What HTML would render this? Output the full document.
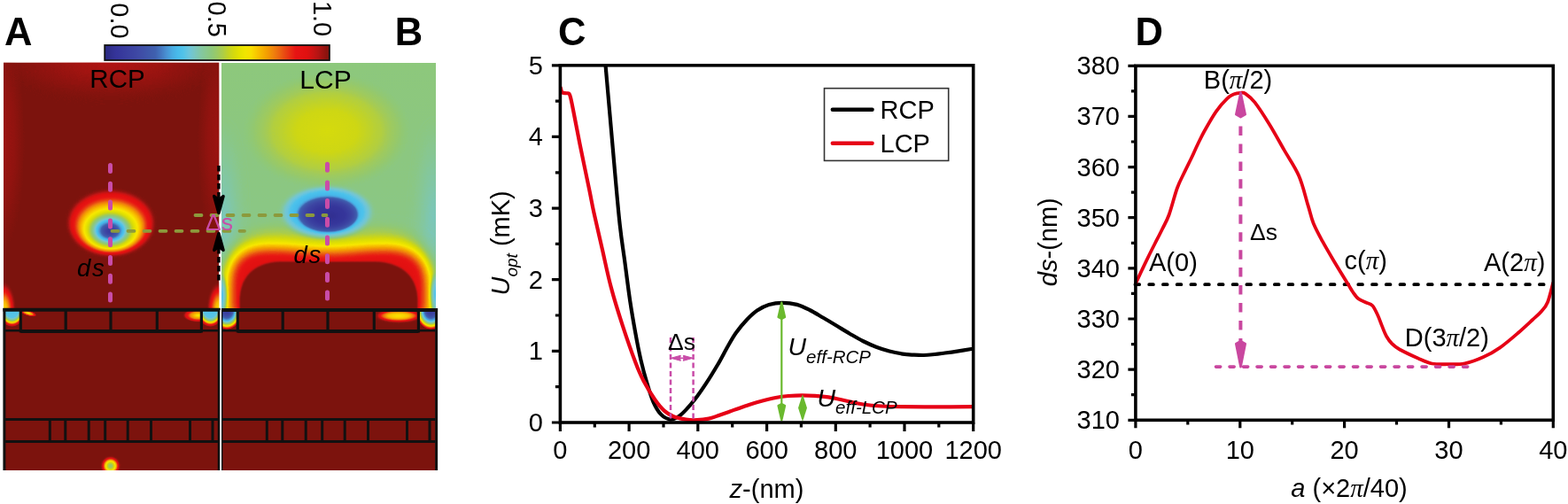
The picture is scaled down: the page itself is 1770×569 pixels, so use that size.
<!DOCTYPE html>
<html><head><meta charset="utf-8"><style>html,body{margin:0;padding:0;background:#fff;overflow:hidden}svg{display:block}</style></head><body>
<svg width="1770" height="569" viewBox="0 0 1770 569" font-family="Liberation Sans, Arial, Helvetica, sans-serif">
<rect width="1770" height="569" fill="#fff"/>
<defs>
<filter id="cm" x="0" y="0" width="1" height="1" color-interpolation-filters="sRGB">
<feComponentTransfer><feFuncR type="table" tableValues="0.169 0.181 0.193 0.205 0.213 0.219 0.225 0.231 0.237 0.243 0.247 0.247 0.247 0.247 0.247 0.252 0.269 0.285 0.288 0.285 0.282 0.282 0.298 0.362 0.426 0.462 0.484 0.506 0.524 0.536 0.548 0.568 0.608 0.648 0.699 0.754 0.806 0.843 0.879 0.912 0.943 0.973 0.973 0.973 0.970 0.963 0.957 0.950 0.942 0.934 0.925 0.916 0.913 0.912 0.910 0.904 0.894 0.884 0.859 0.810 0.761 0.695 0.627 0.559 0.490"/><feFuncG type="table" tableValues="0.165 0.177 0.189 0.201 0.215 0.228 0.242 0.255 0.269 0.282 0.298 0.316 0.334 0.353 0.371 0.403 0.471 0.538 0.600 0.660 0.714 0.741 0.762 0.768 0.775 0.778 0.781 0.783 0.784 0.784 0.784 0.786 0.792 0.798 0.811 0.826 0.842 0.861 0.879 0.892 0.901 0.908 0.852 0.797 0.742 0.687 0.632 0.574 0.516 0.452 0.378 0.305 0.237 0.171 0.105 0.075 0.071 0.066 0.066 0.073 0.081 0.081 0.079 0.077 0.075"/><feFuncB type="table" tableValues="0.502 0.534 0.566 0.598 0.609 0.616 0.623 0.630 0.636 0.643 0.650 0.659 0.667 0.676 0.684 0.704 0.753 0.802 0.842 0.879 0.912 0.924 0.926 0.895 0.865 0.807 0.735 0.664 0.604 0.555 0.506 0.453 0.392 0.331 0.250 0.161 0.081 0.047 0.013 0.000 0.000 0.000 0.000 0.000 0.000 0.000 0.000 0.023 0.047 0.064 0.067 0.070 0.073 0.075 0.077 0.075 0.071 0.066 0.066 0.073 0.081 0.075 0.067 0.059 0.051"/></feComponentTransfer></filter>
<filter id="b1" x="-50%" y="-50%" width="200%" height="200%" color-interpolation-filters="sRGB"><feGaussianBlur stdDeviation="1"/></filter>
<filter id="b2" x="-50%" y="-50%" width="200%" height="200%" color-interpolation-filters="sRGB"><feGaussianBlur stdDeviation="2"/></filter>
<filter id="b3" x="-50%" y="-50%" width="200%" height="200%" color-interpolation-filters="sRGB"><feGaussianBlur stdDeviation="3"/></filter>
<filter id="b4" x="-50%" y="-50%" width="200%" height="200%" color-interpolation-filters="sRGB"><feGaussianBlur stdDeviation="4"/></filter>
<filter id="b6" x="-50%" y="-50%" width="200%" height="200%" color-interpolation-filters="sRGB"><feGaussianBlur stdDeviation="6"/></filter>
<filter id="b7" x="-50%" y="-50%" width="200%" height="200%" color-interpolation-filters="sRGB"><feGaussianBlur stdDeviation="7"/></filter>
<filter id="b8" x="-50%" y="-50%" width="200%" height="200%" color-interpolation-filters="sRGB"><feGaussianBlur stdDeviation="8"/></filter>
<filter id="b10" x="-50%" y="-50%" width="200%" height="200%" color-interpolation-filters="sRGB"><feGaussianBlur stdDeviation="10"/></filter>
<filter id="b14" x="-50%" y="-50%" width="200%" height="200%" color-interpolation-filters="sRGB"><feGaussianBlur stdDeviation="14"/></filter>
<linearGradient id="cbar" x1="0" x2="1" y1="0" y2="0"><stop offset="0.000" stop-color="rgb(43,42,128)"/><stop offset="0.025" stop-color="rgb(48,47,141)"/><stop offset="0.050" stop-color="rgb(53,52,154)"/><stop offset="0.075" stop-color="rgb(55,57,156)"/><stop offset="0.100" stop-color="rgb(58,63,159)"/><stop offset="0.125" stop-color="rgb(60,68,162)"/><stop offset="0.150" stop-color="rgb(63,74,165)"/><stop offset="0.175" stop-color="rgb(63,81,168)"/><stop offset="0.200" stop-color="rgb(63,89,171)"/><stop offset="0.225" stop-color="rgb(63,96,175)"/><stop offset="0.250" stop-color="rgb(68,119,192)"/><stop offset="0.275" stop-color="rgb(73,146,211)"/><stop offset="0.300" stop-color="rgb(72,171,226)"/><stop offset="0.325" stop-color="rgb(72,187,235)"/><stop offset="0.350" stop-color="rgb(82,195,233)"/><stop offset="0.375" stop-color="rgb(108,197,220)"/><stop offset="0.400" stop-color="rgb(121,198,194)"/><stop offset="0.425" stop-color="rgb(130,199,165)"/><stop offset="0.450" stop-color="rgb(136,200,143)"/><stop offset="0.475" stop-color="rgb(141,200,123)"/><stop offset="0.500" stop-color="rgb(155,202,100)"/><stop offset="0.525" stop-color="rgb(172,205,72)"/><stop offset="0.550" stop-color="rgb(195,211,36)"/><stop offset="0.575" stop-color="rgb(213,218,13)"/><stop offset="0.600" stop-color="rgb(228,226,0)"/><stop offset="0.625" stop-color="rgb(240,229,0)"/><stop offset="0.650" stop-color="rgb(248,223,0)"/><stop offset="0.675" stop-color="rgb(248,200,0)"/><stop offset="0.700" stop-color="rgb(246,177,0)"/><stop offset="0.725" stop-color="rgb(243,155,2)"/><stop offset="0.750" stop-color="rgb(240,131,12)"/><stop offset="0.775" stop-color="rgb(236,104,16)"/><stop offset="0.800" stop-color="rgb(233,74,18)"/><stop offset="0.825" stop-color="rgb(232,46,19)"/><stop offset="0.850" stop-color="rgb(231,19,19)"/><stop offset="0.875" stop-color="rgb(228,18,18)"/><stop offset="0.900" stop-color="rgb(224,16,16)"/><stop offset="0.925" stop-color="rgb(203,19,19)"/><stop offset="0.950" stop-color="rgb(180,20,19)"/><stop offset="0.975" stop-color="rgb(152,19,16)"/><stop offset="1.000" stop-color="rgb(125,19,13)"/></linearGradient>
<radialGradient id="spotA" cx="0.5" cy="0.5" r="0.5" fx="0.49" fy="0.64"><stop offset="0" stop-color="rgb(0,0,0)"/><stop offset="0.18" stop-color="rgb(15,15,15)"/><stop offset="0.26" stop-color="rgb(51,51,51)"/><stop offset="0.36" stop-color="rgb(92,92,92)"/><stop offset="0.5" stop-color="rgb(128,128,128)"/><stop offset="0.66" stop-color="rgb(163,163,163)"/><stop offset="0.78" stop-color="rgb(194,194,194)"/><stop offset="0.9" stop-color="rgb(224,224,224)"/><stop offset="1.0" stop-color="rgb(255,255,255)"/></radialGradient>
</defs>
<defs><radialGradient id="spotA2" cx="0.5" cy="0.5" r="0.5" fx="0.49" fy="0.63"><stop offset="0" stop-color="rgb(8,8,8)" stop-opacity="1"/><stop offset="0.085" stop-color="rgb(26,26,26)" stop-opacity="1"/><stop offset="0.19" stop-color="rgb(61,61,61)" stop-opacity="1"/><stop offset="0.27" stop-color="rgb(84,84,84)" stop-opacity="1"/><stop offset="0.35" stop-color="rgb(102,102,102)" stop-opacity="1"/><stop offset="0.43" stop-color="rgb(133,133,133)" stop-opacity="1"/><stop offset="0.5" stop-color="rgb(153,153,153)" stop-opacity="1"/><stop offset="0.62" stop-color="rgb(171,171,171)" stop-opacity="1"/><stop offset="0.7" stop-color="rgb(191,191,191)" stop-opacity="1"/><stop offset="0.8" stop-color="rgb(214,214,214)" stop-opacity="1"/><stop offset="0.93" stop-color="rgb(230,230,230)" stop-opacity="1"/><stop offset="1.0" stop-color="rgb(255,255,255)" stop-opacity="1"/></radialGradient><radialGradient id="spotOut" cx="0.5" cy="0.5" r="0.5" fx="0.5" fy="0.75"><stop offset="0" stop-color="rgb(163,163,163)" stop-opacity="1"/><stop offset="0.6" stop-color="rgb(164,164,164)" stop-opacity="1"/><stop offset="0.67" stop-color="rgb(170,170,170)" stop-opacity="1"/><stop offset="0.75" stop-color="rgb(186,186,186)" stop-opacity="1"/><stop offset="0.82" stop-color="rgb(209,209,209)" stop-opacity="1"/><stop offset="0.93" stop-color="rgb(226,226,226)" stop-opacity="1"/><stop offset="0.975" stop-color="rgb(235,235,235)" stop-opacity="1"/><stop offset="1" stop-color="rgb(255,255,255)" stop-opacity="1"/></radialGradient><radialGradient id="spotIn" cx="0.5" cy="0.5" r="0.5" fx="0.482" fy="0.56"><stop offset="0" stop-color="rgb(13,13,13)" stop-opacity="1"/><stop offset="0.15" stop-color="rgb(28,28,28)" stop-opacity="1"/><stop offset="0.3" stop-color="rgb(56,56,56)" stop-opacity="1"/><stop offset="0.42" stop-color="rgb(79,79,79)" stop-opacity="1"/><stop offset="0.5" stop-color="rgb(92,92,92)" stop-opacity="1"/><stop offset="0.58" stop-color="rgb(110,110,110)" stop-opacity="1"/><stop offset="0.7" stop-color="rgb(135,135,135)" stop-opacity="1"/><stop offset="0.85" stop-color="rgb(156,156,156)" stop-opacity="1"/><stop offset="1" stop-color="rgb(167,167,167)" stop-opacity="0"/></radialGradient><radialGradient id="topA" cx="0.5" cy="0.5" r="0.5" fx="0.5" fy="0.5"><stop offset="0" stop-color="rgb(242,242,242)" stop-opacity="1"/><stop offset="1" stop-color="rgb(242,242,242)" stop-opacity="0"/></radialGradient><radialGradient id="sideA" cx="0.5" cy="0.5" r="0.5" fx="0.5" fy="0.5"><stop offset="0" stop-color="rgb(248,248,248)" stop-opacity="1"/><stop offset="0.5" stop-color="rgb(249,249,249)" stop-opacity="0.8"/><stop offset="1" stop-color="rgb(250,250,250)" stop-opacity="0"/></radialGradient><radialGradient id="botspot" cx="0.5" cy="0.5" r="0.5" fx="0.5" fy="0.5"><stop offset="0" stop-color="rgb(115,115,115)" stop-opacity="1"/><stop offset="0.35" stop-color="rgb(140,140,140)" stop-opacity="1"/><stop offset="0.6" stop-color="rgb(168,168,168)" stop-opacity="1"/><stop offset="0.85" stop-color="rgb(219,219,219)" stop-opacity="1"/><stop offset="1" stop-color="rgb(255,255,255)" stop-opacity="1"/></radialGradient><radialGradient id="cornA" cx="0.5" cy="0.5" r="0.5" fx="0.5" fy="0.4"><stop offset="0" stop-color="rgb(87,87,87)" stop-opacity="1"/><stop offset="0.55" stop-color="rgb(91,91,91)" stop-opacity="1"/><stop offset="0.68" stop-color="rgb(120,120,120)" stop-opacity="1"/><stop offset="0.78" stop-color="rgb(161,161,161)" stop-opacity="1"/><stop offset="0.88" stop-color="rgb(214,214,214)" stop-opacity="1"/><stop offset="1" stop-color="rgb(255,255,255)" stop-opacity="1"/></radialGradient><radialGradient id="flame" cx="0.5" cy="0.5" r="0.5" fx="0.5" fy="0.5"><stop offset="0" stop-color="rgb(163,163,163)" stop-opacity="1"/><stop offset="0.3" stop-color="rgb(178,178,178)" stop-opacity="1"/><stop offset="0.65" stop-color="rgb(219,219,219)" stop-opacity="1"/><stop offset="1" stop-color="rgb(255,255,255)" stop-opacity="0"/></radialGradient><radialGradient id="streak" cx="0.5" cy="0.5" r="0.5" fx="0.5" fy="0.5"><stop offset="0" stop-color="rgb(158,158,158)" stop-opacity="1"/><stop offset="0.5" stop-color="rgb(191,191,191)" stop-opacity="1"/><stop offset="0.8" stop-color="rgb(224,224,224)" stop-opacity="0.8"/><stop offset="1" stop-color="rgb(255,255,255)" stop-opacity="0"/></radialGradient><radialGradient id="yblob" cx="0.5" cy="0.5" r="0.5" fx="0.5" fy="0.5"><stop offset="0" stop-color="rgb(147,147,147)" stop-opacity="1"/><stop offset="0.35" stop-color="rgb(144,144,144)" stop-opacity="1"/><stop offset="0.65" stop-color="rgb(138,138,138)" stop-opacity="0.85"/><stop offset="0.85" stop-color="rgb(131,131,131)" stop-opacity="0.5"/><stop offset="1" stop-color="rgb(128,128,128)" stop-opacity="0"/></radialGradient><radialGradient id="haloB" cx="0.5" cy="0.5" r="0.5" fx="0.5" fy="0.5"><stop offset="0" stop-color="rgb(71,71,71)" stop-opacity="1"/><stop offset="0.55" stop-color="rgb(76,76,76)" stop-opacity="1"/><stop offset="0.75" stop-color="rgb(89,89,89)" stop-opacity="1"/><stop offset="0.88" stop-color="rgb(99,99,99)" stop-opacity="0.85"/><stop offset="1" stop-color="rgb(112,112,112)" stop-opacity="0"/></radialGradient><radialGradient id="coreB" cx="0.5" cy="0.5" r="0.5" fx="0.56" fy="0.55"><stop offset="0" stop-color="rgb(8,8,8)" stop-opacity="1"/><stop offset="0.5" stop-color="rgb(15,15,15)" stop-opacity="1"/><stop offset="0.74" stop-color="rgb(31,31,31)" stop-opacity="1"/><stop offset="0.9" stop-color="rgb(51,51,51)" stop-opacity="1"/><stop offset="1" stop-color="rgb(74,74,74)" stop-opacity="1"/></radialGradient><radialGradient id="blueB" cx="0.5" cy="0.5" r="0.5" fx="0.48" fy="0.56"><stop offset="0" stop-color="rgb(10,10,10)" stop-opacity="1"/><stop offset="0.3" stop-color="rgb(18,18,18)" stop-opacity="1"/><stop offset="0.5" stop-color="rgb(33,33,33)" stop-opacity="1"/><stop offset="0.65" stop-color="rgb(54,54,54)" stop-opacity="1"/><stop offset="0.78" stop-color="rgb(73,73,73)" stop-opacity="1"/><stop offset="0.88" stop-color="rgb(85,85,85)" stop-opacity="1"/><stop offset="0.95" stop-color="rgb(98,98,98)" stop-opacity="0.8"/><stop offset="1" stop-color="rgb(110,110,110)" stop-opacity="0"/></radialGradient><radialGradient id="teal" cx="0.5" cy="0.5" r="0.5" fx="0.5" fy="0.5"><stop offset="0" stop-color="rgb(102,102,102)" stop-opacity="1"/><stop offset="1" stop-color="rgb(102,102,102)" stop-opacity="0"/></radialGradient><radialGradient id="cyanedge" cx="0.5" cy="0.5" r="0.5" fx="0.5" fy="0.5"><stop offset="0" stop-color="rgb(82,82,82)" stop-opacity="1"/><stop offset="0.6" stop-color="rgb(94,94,94)" stop-opacity="0.8"/><stop offset="1" stop-color="rgb(107,107,107)" stop-opacity="0"/></radialGradient><radialGradient id="cornB" cx="0.5" cy="0.5" r="0.5" fx="0.5" fy="0.4"><stop offset="0" stop-color="rgb(15,15,15)" stop-opacity="1"/><stop offset="0.3" stop-color="rgb(36,36,36)" stop-opacity="1"/><stop offset="0.55" stop-color="rgb(76,76,76)" stop-opacity="1"/><stop offset="0.72" stop-color="rgb(128,128,128)" stop-opacity="1"/><stop offset="0.84" stop-color="rgb(168,168,168)" stop-opacity="1"/><stop offset="0.94" stop-color="rgb(219,219,219)" stop-opacity="1"/><stop offset="1" stop-color="rgb(255,255,255)" stop-opacity="1"/></radialGradient><radialGradient id="hotB" cx="0.5" cy="0.5" r="0.5" fx="0.5" fy="0.5"><stop offset="0" stop-color="rgb(163,163,163)" stop-opacity="1"/><stop offset="0.45" stop-color="rgb(173,173,173)" stop-opacity="1"/><stop offset="0.75" stop-color="rgb(209,209,209)" stop-opacity="1"/><stop offset="1" stop-color="rgb(255,255,255)" stop-opacity="0"/></radialGradient><radialGradient id="shoulder" cx="0.5" cy="0.5" r="0.5" fx="0.5" fy="0.5"><stop offset="0" stop-color="rgb(158,158,158)" stop-opacity="1"/><stop offset="0.6" stop-color="rgb(148,148,148)" stop-opacity="0.7"/><stop offset="1" stop-color="rgb(128,128,128)" stop-opacity="0"/></radialGradient><linearGradient id="gB" x1="0" y1="0" x2="0" y2="1"><stop offset="0" stop-color="rgb(121,121,121)"/><stop offset="0.5" stop-color="rgb(119,119,119)"/><stop offset="1" stop-color="rgb(115,115,115)"/></linearGradient><clipPath id="abA"><rect x="0" y="0" width="260" height="349"/></clipPath><clipPath id="abA2"><rect x="180" y="351" width="46" height="22"/></clipPath><clipPath id="abB"><rect x="248" y="0" width="260" height="349"/></clipPath><clipPath id="cA1"><rect x="5" y="350" width="18.3" height="24"/></clipPath><clipPath id="cA2"><rect x="227.4" y="350" width="19.599999999999994" height="24"/></clipPath><clipPath id="cB1"><rect x="250" y="350" width="18.30000000000001" height="24"/></clipPath><clipPath id="cB2"><rect x="472.4" y="350" width="19.600000000000023" height="24"/></clipPath><clipPath id="cB3"><rect x="423" y="350" width="49" height="24"/></clipPath></defs>
<clipPath id="clA"><rect x="4" y="70.5" width="243.4" height="460.5"/></clipPath><g clip-path="url(#clA)"><g filter="url(#cm)">
<rect x="4" y="70.5" width="243.4" height="461" fill="#fff"/>
<ellipse cx="126" cy="70" rx="125" ry="42" fill="url(#topA)" filter="url(#b6)"/>
<ellipse cx="4" cy="160" rx="24" ry="120" fill="url(#sideA)"/>
<ellipse cx="247" cy="160" rx="24" ry="120" fill="url(#sideA)"/>
<g filter="url(#b2)"><ellipse cx="125.3" cy="251.7" rx="48" ry="36.2" fill="url(#spotOut)"/><ellipse cx="125" cy="258.5" rx="33" ry="25" fill="url(#spotIn)"/></g>
<circle cx="124.8" cy="526" r="10" fill="url(#botspot)" filter="url(#b1)"/>
<g clip-path="url(#abA)"><ellipse cx="4" cy="350" rx="14.5" ry="33" fill="url(#flame)"/><ellipse cx="247.4" cy="350" rx="14.5" ry="33" fill="url(#flame)"/></g>
<g clip-path="url(#cA1)"><ellipse cx="13.5" cy="350" rx="15" ry="19" fill="url(#cornA)"/></g>
<g clip-path="url(#cA2)"><ellipse cx="237.5" cy="350" rx="15" ry="19" fill="url(#cornA)"/></g>
<ellipse cx="32" cy="353.5" rx="10" ry="3.2" fill="url(#streak)" transform="rotate(16 32 353.5)"/>
<g clip-path="url(#abA2)"><ellipse cx="224" cy="356" rx="18" ry="8" fill="url(#streak)"/></g>
</g></g>
<clipPath id="clB"><rect x="250" y="71" width="242" height="460"/></clipPath><g clip-path="url(#clB)"><g filter="url(#cm)">
<rect x="250" y="71" width="242" height="460" fill="#fff"/>
<rect x="250" y="71" width="242" height="285" fill="url(#gB)"/>
<ellipse cx="252" cy="245" rx="24" ry="110" fill="url(#teal)" filter="url(#b4)"/>
<ellipse cx="490" cy="245" rx="24" ry="110" fill="url(#teal)" filter="url(#b4)"/>
<ellipse cx="369" cy="148" rx="95" ry="66" fill="url(#yblob)"/>
<path d="M252,360 L252,325 C252,285 272,260 310,260 C340,260 350,266 370,266 C390,266 400,260 430,260 C468,260 490,285 490,325 L490,360 Z" fill="rgb(143,143,143)" filter="url(#b8)"/>
<g filter="url(#b1)"><ellipse cx="369" cy="239.5" rx="55" ry="31.5" fill="url(#haloB)"/><ellipse cx="370" cy="242" rx="35" ry="20.5" fill="url(#coreB)"/></g>
<path d="M259,360 L259,320 C259,293 274,279.5 302,279.5 C332,279.5 347,283 370,283 C393,283 408,279.5 438,279.5 C466,279.5 483,293 483,320 L483,360 Z" fill="rgb(226,226,226)" filter="url(#b8)"/>
<path d="M270,360 L270,340 C270,313 286,296 316,295 L424,295 C455,296 472,313 472,340 L472,360 Z" fill="#fff" filter="url(#b1)"/>
<ellipse cx="249.5" cy="334" rx="8" ry="28" fill="url(#cyanedge)" filter="url(#b1)"/>
<ellipse cx="492.5" cy="332" rx="8" ry="28" fill="url(#cyanedge)" filter="url(#b1)"/>
<rect x="250" y="350" width="242" height="182" fill="#fff"/>
<g clip-path="url(#cB1)"><ellipse cx="256" cy="353" rx="16" ry="19" fill="url(#cornB)"/></g>
<g clip-path="url(#cB2)"><ellipse cx="486.5" cy="353" rx="16" ry="19" fill="url(#cornB)"/></g>
<g clip-path="url(#cB3)"><ellipse cx="450" cy="356.5" rx="27" ry="7.5" fill="url(#hotB)" filter="url(#b1)"/></g>
</g></g>
<g stroke="#111" fill="none" stroke-linecap="butt">
<line x1="3.5" y1="349.8" x2="248.6" y2="349.8" stroke-width="4"/>
<line x1="23.3" y1="350" x2="23.3" y2="375.5" stroke-width="3.2"/>
<line x1="74.2" y1="350" x2="74.2" y2="375.5" stroke-width="3.2"/>
<line x1="125" y1="350" x2="125" y2="375.5" stroke-width="3.2"/>
<line x1="177.3" y1="350" x2="177.3" y2="375.5" stroke-width="3.2"/>
<line x1="227.4" y1="350" x2="227.4" y2="375.5" stroke-width="3.2"/>
<line x1="5" y1="373.2" x2="247" y2="373.2" stroke-width="2.6"/>
<line x1="23.3" y1="374.6" x2="227.4" y2="374.6" stroke-width="3"/>
<line x1="5" y1="473.4" x2="247" y2="473.4" stroke-width="3"/>
<line x1="5" y1="498.5" x2="247" y2="498.5" stroke-width="3"/>
<line x1="56.3" y1="473.4" x2="56.3" y2="498.5" stroke-width="3"/>
<line x1="73.8" y1="473.4" x2="73.8" y2="498.5" stroke-width="3"/>
<line x1="100.2" y1="473.4" x2="100.2" y2="498.5" stroke-width="3"/>
<line x1="118.7" y1="473.4" x2="118.7" y2="498.5" stroke-width="3"/>
<line x1="144.2" y1="473.4" x2="144.2" y2="498.5" stroke-width="3"/>
<line x1="170.5" y1="473.4" x2="170.5" y2="498.5" stroke-width="3"/>
<line x1="214.5" y1="473.4" x2="214.5" y2="498.5" stroke-width="3"/>
<line x1="240" y1="473.4" x2="240" y2="498.5" stroke-width="3"/>
</g>
<g stroke="#111" fill="none" stroke-linecap="butt">
<line x1="250" y1="350" x2="494.1" y2="350" stroke-width="4"/>
<line x1="268.3" y1="350" x2="268.3" y2="375.5" stroke-width="3.2"/>
<line x1="319.2" y1="350" x2="319.2" y2="375.5" stroke-width="3.2"/>
<line x1="370" y1="350" x2="370" y2="375.5" stroke-width="3.2"/>
<line x1="422.3" y1="350" x2="422.3" y2="375.5" stroke-width="3.2"/>
<line x1="472.4" y1="350" x2="472.4" y2="375.5" stroke-width="3.2"/>
<line x1="250" y1="373.2" x2="492" y2="373.2" stroke-width="2.6"/>
<line x1="268.3" y1="374.6" x2="472.4" y2="374.6" stroke-width="3"/>
<line x1="250" y1="473.4" x2="492" y2="473.4" stroke-width="3"/>
<line x1="250" y1="498.5" x2="492" y2="498.5" stroke-width="3"/>
<line x1="301.3" y1="473.4" x2="301.3" y2="498.5" stroke-width="3"/>
<line x1="318.8" y1="473.4" x2="318.8" y2="498.5" stroke-width="3"/>
<line x1="345.2" y1="473.4" x2="345.2" y2="498.5" stroke-width="3"/>
<line x1="363.7" y1="473.4" x2="363.7" y2="498.5" stroke-width="3"/>
<line x1="389.2" y1="473.4" x2="389.2" y2="498.5" stroke-width="3"/>
<line x1="415.5" y1="473.4" x2="415.5" y2="498.5" stroke-width="3"/>
<line x1="459.5" y1="473.4" x2="459.5" y2="498.5" stroke-width="3"/>
<line x1="485" y1="473.4" x2="485" y2="498.5" stroke-width="3"/>
</g>
<line x1="4.9" y1="348" x2="4.9" y2="531" stroke="#111" stroke-width="3"/>
<line x1="247.1" y1="348" x2="247.1" y2="531" stroke="#111" stroke-width="2.8"/>
<line x1="250.7" y1="350" x2="250.7" y2="531" stroke="#111" stroke-width="1.4"/>
<line x1="492.6" y1="348" x2="492.6" y2="531" stroke="#111" stroke-width="3"/>
<rect x="248.5" y="350" width="1.5" height="182" fill="#fff"/>
<rect x="118.2" y="51" width="253.7" height="17" fill="url(#cbar)" stroke="#111" stroke-width="1.8"/>
<text transform="translate(124.6,3.3) rotate(90)" font-size="29">0.0</text>
<text transform="translate(234.6,1.6) rotate(90)" font-size="29">0.5</text>
<text transform="translate(353.6,0.9) rotate(90)" font-size="29">1.0</text>
<text x="5.0" y="50.8" font-size="43.5" font-weight="bold">A</text>
<text x="445.8" y="50.8" font-size="43.5" font-weight="bold">B</text>
<text x="630.0" y="50.8" font-size="43.5" font-weight="bold">C</text>
<text x="1281.4" y="50.8" font-size="43.5" font-weight="bold">D</text>
<text x="132.5" y="99.2" font-size="29.5" text-anchor="middle">RCP</text>
<text x="367.5" y="100.2" font-size="30" text-anchor="middle">LCP</text>
<line x1="124.5" y1="186.5" x2="124.5" y2="342" stroke="#c94ca8" stroke-width="5" stroke-dasharray="7 13.8" stroke-linecap="round"/>
<line x1="369.5" y1="185.2" x2="369.5" y2="341" stroke="#c94ca8" stroke-width="5" stroke-dasharray="7 13.7" stroke-linecap="round"/>
<line x1="126.5" y1="260.8" x2="276" y2="260.8" stroke="#8c9a3c" stroke-width="3.8" stroke-dasharray="7 11" stroke-linecap="round"/>
<line x1="220.5" y1="243" x2="368.5" y2="243" stroke="#8c9a3c" stroke-width="3.8" stroke-dasharray="7 11" stroke-linecap="round"/>
<line x1="246.9" y1="187" x2="246.9" y2="224" stroke="#000" stroke-width="3.4" stroke-dasharray="6.5 3.5"/>
<line x1="246.9" y1="280" x2="246.9" y2="320" stroke="#000" stroke-width="3.4" stroke-dasharray="6.5 3.5"/>
<path d="M246.9,240.5 L241.70000000000002,221.5 L246.9,225.5 L252.1,221.5 Z" fill="#000" stroke="#000" stroke-width="3.4" stroke-linejoin="round"/>
<path d="M246.9,263.5 L241.70000000000002,282.5 L246.9,278.5 L252.1,282.5 Z" fill="#000" stroke="#000" stroke-width="3.4" stroke-linejoin="round"/>
<text x="232" y="259.8" font-size="26.5" fill="#c94ca8">Δs</text>
<text x="87" y="311.5" font-size="27.5" font-style="italic" letter-spacing="1.8">ds</text>
<text x="331.5" y="296.8" font-size="27.5" font-style="italic" letter-spacing="1.8">ds</text>
<clipPath id="clipC"><rect x="632.4" y="73.8" width="466.3" height="405.2"/></clipPath>
<g clip-path="url(#clipC)" fill="none" stroke-linejoin="round" stroke-linecap="round">
<path d="M683.4,72.0 C684.8,88.3 689.4,140.3 692.0,170.0 C694.6,199.7 697.1,229.2 699.3,250.0 C701.5,270.8 703.2,279.9 705.2,294.8 C707.2,309.7 709.2,326.2 711.2,339.6 C713.2,353.0 715.2,364.3 717.2,375.4 C719.2,386.5 721.2,396.8 723.4,406.4 C725.6,415.9 728.0,424.8 730.4,432.7 C732.8,440.6 734.9,447.9 737.5,453.8 C740.1,459.7 743.0,464.6 746.2,467.9 C749.4,471.2 753.6,473.2 756.8,473.6 C760.0,474.0 762.7,472.3 765.6,470.5 C768.5,468.7 771.2,466.0 774.4,462.6 C777.6,459.2 781.1,455.3 784.9,450.3 C788.7,445.3 793.0,439.1 797.2,432.7 C801.4,426.3 805.9,418.9 810.0,412.0 C814.1,405.1 818.1,397.1 821.6,391.0 C825.1,384.9 827.4,380.5 831.0,375.5 C834.6,370.5 839.0,365.2 843.0,361.0 C847.0,356.8 850.5,353.3 854.7,350.5 C858.9,347.7 863.3,345.4 868.0,344.0 C872.7,342.6 877.8,341.8 883.0,341.8 C888.2,341.8 894.3,342.5 899.5,343.9 C904.7,345.3 909.0,347.5 914.0,350.0 C919.0,352.5 924.3,355.9 929.3,358.8 C934.3,361.7 939.0,364.5 944.0,367.5 C949.0,370.5 954.2,373.8 959.2,376.7 C964.2,379.6 969.0,382.5 974.0,385.0 C979.0,387.5 984.1,389.8 989.1,391.7 C994.1,393.6 999.0,395.2 1004.0,396.5 C1009.0,397.8 1014.7,398.9 1019.0,399.6 C1023.3,400.3 1026.0,400.4 1030.0,400.6 C1034.0,400.8 1038.6,401.1 1042.8,401.0 C1047.0,400.9 1051.0,400.4 1055.0,400.0 C1059.0,399.6 1062.2,399.1 1066.7,398.5 C1071.2,397.9 1076.8,397.1 1082.0,396.3 C1087.2,395.5 1095.3,394.2 1098.0,393.8" stroke="#000" stroke-width="4.2"/>
<path d="M632.9,99.5 C633.2,100.3 633.5,103.2 634.5,104.2 C635.5,105.2 637.7,104.9 639.0,105.2 C640.3,105.5 641.6,104.8 642.5,105.8 C643.4,106.8 643.5,108.0 644.3,111.0 C645.0,114.0 645.3,115.3 647.0,124.0 C648.7,132.7 651.5,147.7 654.6,163.0 C657.7,178.3 663.0,203.2 665.6,216.0 C668.2,228.8 668.0,229.0 670.4,240.0 C672.8,251.0 676.8,267.9 680.0,282.0 C683.2,296.1 686.0,310.3 689.8,324.4 C693.5,338.5 697.9,352.5 702.5,366.6 C707.1,380.7 713.2,398.2 717.2,408.8 C721.2,419.4 722.8,423.0 726.5,430.0 C730.2,437.0 735.3,445.4 739.2,451.0 C743.1,456.6 746.2,460.4 749.7,463.6 C753.2,466.8 756.2,468.5 760.3,470.2 C764.4,471.9 770.0,472.9 774.4,473.6 C778.8,474.3 782.4,474.4 786.7,474.2 C791.0,474.0 796.1,473.4 800.0,472.6 C803.9,471.8 805.9,470.9 809.9,469.5 C813.9,468.1 819.0,466.3 824.0,464.5 C829.0,462.7 834.2,460.7 839.7,458.9 C845.2,457.1 851.0,455.1 857.0,453.5 C863.0,451.9 870.1,450.1 875.6,449.0 C881.1,447.9 885.0,447.4 890.0,447.0 C895.0,446.6 900.4,446.3 905.4,446.3 C910.4,446.3 915.0,446.5 920.0,446.8 C925.0,447.1 929.5,447.4 935.3,448.4 C941.1,449.3 948.5,451.1 955.0,452.5 C961.5,453.9 967.4,455.5 974.1,456.5 C980.8,457.5 987.5,458.1 995.0,458.5 C1002.5,458.9 1008.2,459.1 1019.0,459.2 C1029.8,459.3 1046.8,459.4 1060.0,459.4 C1073.2,459.4 1091.7,459.2 1098.0,459.2" stroke="#e60016" stroke-width="4.2"/>
</g>
<g stroke="#c94ca8" stroke-width="2.5" stroke-dasharray="6 3.5" fill="none"><line x1="757" y1="381" x2="757" y2="476"/><line x1="782.6" y1="381" x2="782.6" y2="476"/></g>
<line x1="765" y1="404.3" x2="774.6" y2="404.3" stroke="#c94ca8" stroke-width="1.6"/>
<path d="M757.3,404.3 L768.3,401.3 L767.5,404.3 L768.3,407.3 Z M782.3,404.3 L771.3,401.3 L772.1,404.3 L771.3,407.3 Z" fill="#c94ca8" stroke="#c94ca8" stroke-width="1" stroke-linejoin="round"/>
<text x="754" y="395.4" font-size="26.5">Δs</text>
<line x1="882.3" y1="352" x2="882.3" y2="466" stroke="#6ab92e" stroke-width="2.2"/>
<path d="M882.3,341.5 L878.5,358.0 L882.3,360.0 L886.0999999999999,358.0 Z" fill="#6ab92e" stroke="#6ab92e" stroke-width="2.2" stroke-linejoin="round"/>
<path d="M882.3,474.5 L878.5,458.0 L882.3,456.0 L886.0999999999999,458.0 Z" fill="#6ab92e" stroke="#6ab92e" stroke-width="2.2" stroke-linejoin="round"/>
<path d="M906,445 L901,460.5 L906,476 L911,460.5 Z" fill="#6ab92e"/>
<line x1="906" y1="448" x2="906" y2="473" stroke="#6ab92e" stroke-width="2.2"/>
<text x="889.5" y="401" font-size="28.5" font-style="italic">U<tspan font-size="20.5" dy="8.6">eff-RCP</tspan></text>
<text x="922.5" y="459" font-size="28.5" font-style="italic">U<tspan font-size="20.5" dy="7.7">eff-LCP</tspan></text>
<rect x="930.5" y="99.7" width="140.2" height="81.7" fill="#fff" stroke="#333" stroke-width="1.6"/>
<line x1="939.8" y1="123.8" x2="984.6" y2="123.8" stroke="#000" stroke-width="4.4" stroke-linecap="round"/>
<line x1="939.8" y1="161.7" x2="984.6" y2="161.7" stroke="#e60016" stroke-width="4.4" stroke-linecap="round"/>
<text x="993.5" y="133.8" font-size="29">RCP</text>
<text x="993.5" y="171.9" font-size="29">LCP</text>
<rect x="632.4" y="73.8" width="466.3" height="403.2" fill="none" stroke="#000" stroke-width="3.6"/>
<text x="613" y="487.0" font-size="29" text-anchor="end">0</text>
<text x="613" y="406.4" font-size="29" text-anchor="end">1</text>
<text x="613" y="325.7" font-size="29" text-anchor="end">2</text>
<text x="613" y="245.1" font-size="29" text-anchor="end">3</text>
<text x="613" y="164.4" font-size="29" text-anchor="end">4</text>
<text x="613" y="83.8" font-size="29" text-anchor="end">5</text>
<text x="632.4" y="517.6" font-size="29" text-anchor="middle">0</text>
<text x="710.1" y="517.6" font-size="29" text-anchor="middle">200</text>
<text x="787.8" y="517.6" font-size="29" text-anchor="middle">400</text>
<text x="865.6" y="517.6" font-size="29" text-anchor="middle">600</text>
<text x="943.3" y="517.6" font-size="29" text-anchor="middle">800</text>
<text x="1021.0" y="517.6" font-size="29" text-anchor="middle">1000</text>
<text x="1098.7" y="517.6" font-size="29" text-anchor="middle">1200</text>
<path d="M622.9,477.0 H632.4 M622.9,396.4 H632.4 M622.9,315.7 H632.4 M622.9,235.1 H632.4 M622.9,154.4 H632.4 M622.9,73.8 H632.4 M626.9,436.7 H632.4 M626.9,356.0 H632.4 M626.9,275.4 H632.4 M626.9,194.8 H632.4 M626.9,114.1 H632.4 M632.4,477.0 V487.0 M710.1,477.0 V487.0 M787.8,477.0 V487.0 M865.6,477.0 V487.0 M943.3,477.0 V487.0 M1021.0,477.0 V487.0 M1098.7,477.0 V487.0 M671.3,477.0 V482.5 M749.0,477.0 V482.5 M826.7,477.0 V482.5 M904.4,477.0 V482.5 M982.1,477.0 V482.5 M1059.8,477.0 V482.5" stroke="#000" stroke-width="3.2"/>
<text x="865.5" y="561.6" font-size="29" text-anchor="middle"><tspan font-style="italic">z</tspan>-(nm)</text>
<text transform="translate(574.7,333.5) rotate(-90)" font-size="29"><tspan font-style="italic">U</tspan><tspan font-style="italic" font-size="19" dy="9.6">opt</tspan><tspan dy="-9.6"> (mK)</tspan></text>
<line x1="1281.4" y1="321.2" x2="1753.3" y2="321.2" stroke="#000" stroke-width="3.7" stroke-dasharray="4.8 10.94" stroke-linecap="round"/>
<path d="M1282.0,319.9 C1283.2,317.4 1286.7,309.9 1289.0,305.0 C1291.3,300.1 1293.3,295.8 1295.8,290.8 C1298.2,285.8 1301.0,280.3 1303.7,275.0 C1306.4,269.7 1309.1,264.6 1311.7,259.2 C1314.3,253.8 1316.8,250.3 1319.6,242.5 C1322.4,234.7 1326.0,220.3 1328.8,212.5 C1331.6,204.7 1333.9,201.1 1336.5,195.5 C1339.1,189.9 1342.0,184.4 1344.6,179.0 C1347.2,173.6 1349.4,168.3 1352.0,163.0 C1354.6,157.7 1356.6,153.2 1360.1,147.0 C1363.6,140.8 1368.6,131.8 1372.8,125.8 C1377.0,119.8 1382.0,114.3 1385.4,111.1 C1388.8,107.8 1390.5,107.3 1393.0,106.3 C1395.5,105.2 1398.0,104.9 1400.2,104.8 C1402.4,104.7 1403.3,104.0 1406.0,105.8 C1408.7,107.6 1412.0,109.9 1416.5,115.7 C1421.0,121.5 1427.5,131.6 1433.0,140.5 C1438.5,149.4 1444.1,159.8 1449.6,169.4 C1455.1,179.0 1461.6,188.0 1466.1,198.3 C1470.6,208.6 1473.7,222.5 1476.4,231.4 C1479.2,240.3 1479.8,245.1 1482.6,252.0 C1485.4,258.9 1488.9,265.1 1493.0,272.7 C1497.1,280.3 1502.7,289.5 1507.4,297.5 C1512.2,305.5 1518.2,315.2 1521.5,320.5 C1524.8,325.8 1525.0,326.7 1527.0,329.5 C1529.0,332.3 1530.9,335.3 1533.4,337.3 C1535.9,339.3 1539.3,340.2 1541.9,341.5 C1544.5,342.8 1547.0,342.6 1549.2,345.0 C1551.4,347.4 1553.4,351.9 1555.2,355.8 C1557.0,359.7 1558.6,364.4 1560.2,368.4 C1561.8,372.4 1563.2,376.4 1565.1,379.7 C1567.0,383.0 1568.9,385.6 1571.4,388.1 C1573.9,390.6 1575.0,391.8 1579.9,394.5 C1584.8,397.2 1594.6,401.8 1600.7,404.5 C1606.8,407.2 1610.8,409.4 1616.5,410.5 C1622.2,411.6 1628.8,411.2 1635.0,411.2 C1641.2,411.2 1646.9,411.6 1653.5,410.3 C1660.1,409.0 1668.0,406.1 1674.6,403.1 C1681.2,400.2 1686.4,397.2 1693.0,392.6 C1699.6,388.0 1707.9,380.8 1714.1,375.5 C1720.3,370.2 1725.7,365.0 1730.0,361.0 C1734.3,357.0 1737.2,354.8 1740.0,351.5 C1742.8,348.2 1744.8,346.6 1747.0,341.2 C1749.2,335.8 1752.2,322.5 1753.3,318.8" stroke="#e60016" stroke-width="3.8" fill="none" stroke-linejoin="round"/>
<line x1="1372.5" y1="414.1" x2="1662" y2="414.1" stroke="#c9479f" stroke-width="3.6" stroke-dasharray="5.2 10.3" stroke-linecap="round"/>
<line x1="1400.4" y1="142.5" x2="1400.4" y2="386" stroke="#c9479f" stroke-width="4" stroke-dasharray="10.5 9.45"/>
<path d="M1400.5,104.6 L1395.3,129.2 L1400.5,132.2 L1405.7,129.2 Z" fill="#c9479f" stroke="#c9479f" stroke-width="2.6" stroke-linejoin="round"/>
<path d="M1400.5,414.2 L1395.3,388.2 L1400.5,385.2 L1405.7,388.2 Z" fill="#c9479f" stroke="#c9479f" stroke-width="2.6" stroke-linejoin="round"/>
<text x="1358.8" y="99.8" font-size="29">B(<tspan font-family="Liberation Serif, serif" font-style="italic">π</tspan>/2)</text>
<text x="1297" y="305.5" font-size="29">A(0)</text>
<text x="1517.5" y="303.6" font-size="29">c(<tspan font-family="Liberation Serif, serif" font-style="italic">π</tspan>)</text>
<text x="1675" y="306.3" font-size="29">A(2<tspan font-family="Liberation Serif, serif" font-style="italic">π</tspan>)</text>
<text x="1585.8" y="391.3" font-size="29">D(3<tspan font-family="Liberation Serif, serif" font-style="italic">π</tspan>/2)</text>
<text x="1411" y="271" font-size="26.5">Δs</text>
<rect x="1281.9" y="74.3" width="471.4" height="400.0" fill="none" stroke="#000" stroke-width="3.6"/>
<text x="1264" y="484.3" font-size="29" text-anchor="end">310</text>
<text x="1264" y="427.2" font-size="29" text-anchor="end">320</text>
<text x="1264" y="370.0" font-size="29" text-anchor="end">330</text>
<text x="1264" y="312.9" font-size="29" text-anchor="end">340</text>
<text x="1264" y="255.7" font-size="29" text-anchor="end">350</text>
<text x="1264" y="198.6" font-size="29" text-anchor="end">360</text>
<text x="1264" y="141.4" font-size="29" text-anchor="end">370</text>
<text x="1264" y="84.3" font-size="29" text-anchor="end">380</text>
<text x="1281.9" y="517.9" font-size="29" text-anchor="middle">0</text>
<text x="1399.8" y="517.9" font-size="29" text-anchor="middle">10</text>
<text x="1517.6" y="517.9" font-size="29" text-anchor="middle">20</text>
<text x="1635.5" y="517.9" font-size="29" text-anchor="middle">30</text>
<text x="1753.3" y="517.9" font-size="29" text-anchor="middle">40</text>
<path d="M1273.4,474.3 H1281.9 M1273.4,417.2 H1281.9 M1273.4,360.0 H1281.9 M1273.4,302.9 H1281.9 M1273.4,245.7 H1281.9 M1273.4,188.6 H1281.9 M1273.4,131.4 H1281.9 M1273.4,74.3 H1281.9 M1276.9,445.7 H1281.9 M1276.9,388.6 H1281.9 M1276.9,331.4 H1281.9 M1276.9,274.3 H1281.9 M1276.9,217.2 H1281.9 M1276.9,160.0 H1281.9 M1276.9,102.9 H1281.9 M1281.9,474.3 V483.3 M1399.8,474.3 V483.3 M1517.6,474.3 V483.3 M1635.5,474.3 V483.3 M1753.3,474.3 V483.3 M1340.8,474.3 V479.6 M1458.7,474.3 V479.6 M1576.5,474.3 V479.6 M1694.4,474.3 V479.6" stroke="#000" stroke-width="3.2"/>
<text x="1523" y="561.2" font-size="29" text-anchor="middle"><tspan font-style="italic">a</tspan> (×2<tspan font-family="Liberation Serif, serif" font-style="italic">π</tspan>/40)</text>
<text transform="translate(1193.3,273.2) rotate(-90)" font-size="29" text-anchor="middle"><tspan font-style="italic">ds</tspan>-(nm)</text>
</svg>
</body></html>
